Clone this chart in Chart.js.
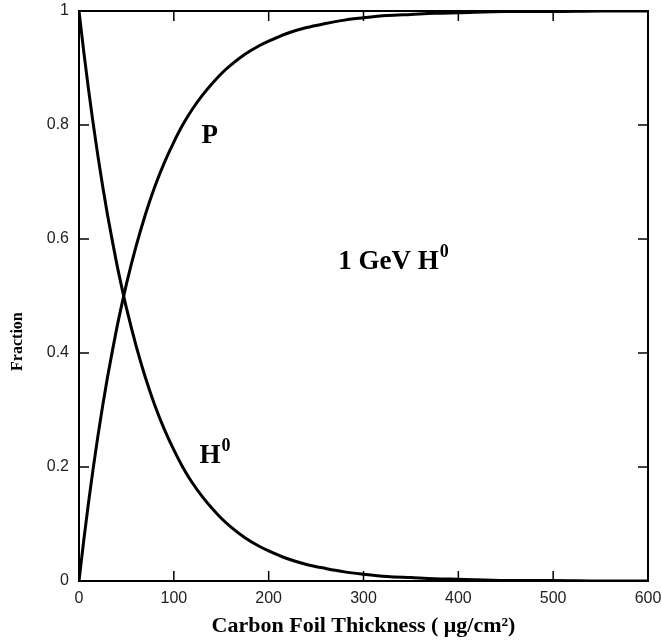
<!DOCTYPE html>
<html>
<head>
<meta charset="utf-8">
<script src="https://cdn.jsdelivr.net/npm/chart.js@4"></script>
<style>
  html, body { margin: 0; padding: 0; background: #fff; }
  #wrap { width: 662px; height: 640px; }
</style>
</head>
<body>
<div id="wrap"><canvas id="c" width="662" height="640"></canvas></div>
<script>
// carbon foil thickness (ug/cm2)
const thickness = [0, 5, 10, 15, 20, 25, 30, 35, 40, 45, 50, 60, 70, 80, 90, 100, 110, 120, 130, 140, 150,
    160, 175, 190, 200, 220, 240, 260, 280, 300, 325, 350, 375, 400, 450, 500, 550, 600];

// H0 fraction surviving
const h0Frac = [1.000, 0.929, 0.863, 0.802, 0.745, 0.692, 0.643, 0.598, 0.555, 0.516, 0.479, 0.414, 0.357,
    0.308, 0.266, 0.230, 0.198, 0.171, 0.148, 0.128, 0.110, 0.095, 0.076, 0.061, 0.053, 0.039, 0.029,
    0.022, 0.016, 0.012, 0.008, 0.006, 0.004, 0.003, 0.001, 0.001, 0.000, 0.000];

// proton fraction
const pFrac = [0.000, 0.071, 0.137, 0.198, 0.255, 0.308, 0.357, 0.402, 0.445, 0.484, 0.521, 0.586, 0.643,
    0.692, 0.734, 0.770, 0.802, 0.829, 0.852, 0.872, 0.890, 0.905, 0.924, 0.939, 0.947, 0.961, 0.971,
    0.978, 0.984, 0.988, 0.992, 0.994, 0.996, 0.997, 0.999, 0.999, 1.000, 1.000];

const xTicks = [0, 100, 200, 300, 400, 500, 600];
const yTicks = [0, 0.2, 0.4, 0.6, 0.8, 1];

// curve labels, in data coords
const notes = [
    { x: 138, y: 0.78, base: 'P', sup: '', size: 27 },
    { x: 143, y: 0.22, base: 'H', sup: '0', size: 27 },
    { x: 331, y: 0.56, base: '1 GeV H', sup: '0', size: 27 }
];

const serif = '"Liberation Serif", "DejaVu Serif", serif';
const sans = '"Liberation Sans", Arial, sans-serif';

const toPts = (xs, ys) => xs.map((x, i) => ({ x, y: ys[i] }));

// frame + inward ticks on all four sides, plus text notes
const framePlugin = {
    id: 'frame',
    afterDraw(chart) {
        const { ctx, chartArea: a, scales } = chart;
        ctx.save();
        ctx.strokeStyle = '#000';
        ctx.lineWidth = 2;
        ctx.strokeRect(a.left, a.top, a.right - a.left, a.bottom - a.top);
        ctx.lineWidth = 1.5;
        const len = 10;
        xTicks.forEach(v => {
            const px = scales.x.getPixelForValue(v);
            ctx.beginPath();
            ctx.moveTo(px, a.bottom); ctx.lineTo(px, a.bottom - len);
            ctx.moveTo(px, a.top); ctx.lineTo(px, a.top + len);
            ctx.stroke();
        });
        yTicks.forEach(v => {
            const py = scales.y.getPixelForValue(v);
            ctx.beginPath();
            ctx.moveTo(a.left, py); ctx.lineTo(a.left + len, py);
            ctx.moveTo(a.right, py); ctx.lineTo(a.right - len, py);
            ctx.stroke();
        });

        ctx.fillStyle = '#000';
        ctx.textBaseline = 'middle';
        ctx.textAlign = 'left';
        notes.forEach(n => {
            ctx.font = `bold ${n.size}px ${serif}`;
            const w = ctx.measureText(n.base).width;
            ctx.font = `bold ${Math.round(n.size * 0.65)}px ${serif}`;
            const ws = n.sup ? ctx.measureText(n.sup).width : 0;
            let px = scales.x.getPixelForValue(n.x) - (w + ws) / 2;
            const py = scales.y.getPixelForValue(n.y);
            ctx.font = `bold ${n.size}px ${serif}`;
            ctx.fillText(n.base, px, py);
            if (n.sup) {
                ctx.font = `bold ${Math.round(n.size * 0.65)}px ${serif}`;
                ctx.fillText(n.sup, px + w + 1, py - n.size * 0.35);
            }
        });

        // y axis title, sits a bit below the middle like the original
        ctx.translate(18, scales.y.getPixelForValue(0.42));
        ctx.rotate(-Math.PI / 2);
        ctx.textAlign = 'center';
        ctx.font = `bold 16px ${serif}`;
        ctx.fillText('Fraction', 0, 0);
        ctx.restore();
    }
};

new Chart(document.getElementById('c'), {
    type: 'scatter',
    data: {
        datasets: [
            { label: 'H0', data: toPts(thickness, h0Frac) },
            { label: 'P', data: toPts(thickness, pFrac) }
        ]
    },
    options: {
        responsive: false,
        animation: false,
        showLine: true,
        layout: { padding: { left: 0, right: 14, top: 11, bottom: 0 } },
        elements: {
            point: { radius: 0, hoverRadius: 0 },
            line: { borderColor: '#000', borderWidth: 3, cubicInterpolationMode: 'monotone', fill: false }
        },
        plugins: {
            legend: { display: false },
            tooltip: { enabled: false }
        },
        scales: {
            x: {
                type: 'linear',
                min: 0, max: 600,
                afterFit: s => { s.height = 59; s.paddingLeft = 0; s.paddingRight = 0; },
                afterBuildTicks: s => { s.ticks = xTicks.map(v => ({ value: v })); },
                grid: { display: false, drawTicks: false },
                border: { display: false },
                ticks: { color: '#222', padding: 8, font: { family: sans, size: 16 }, maxRotation: 0 },
                title: {
                    display: true,
                    text: 'Carbon Foil Thickness ( μg/cm²)',
                    color: '#000',
                    padding: { top: 0, bottom: 0 },
                    font: { family: serif, size: 22, weight: 'bold' }
                }
            },
            y: {
                type: 'linear',
                min: 0, max: 1,
                afterFit: s => { s.width = 79; s.paddingTop = 0; s.paddingBottom = 0; },
                afterBuildTicks: s => { s.ticks = yTicks.map(v => ({ value: v })); },
                grid: { display: false, drawTicks: false },
                border: { display: false },
                ticks: {
                    color: '#222', padding: 10, font: { family: sans, size: 16 },
                    callback: v => String(v)
                },
                title: { display: false }
            }
        }
    },
    plugins: [framePlugin]
});
</script>
</body>
</html>
